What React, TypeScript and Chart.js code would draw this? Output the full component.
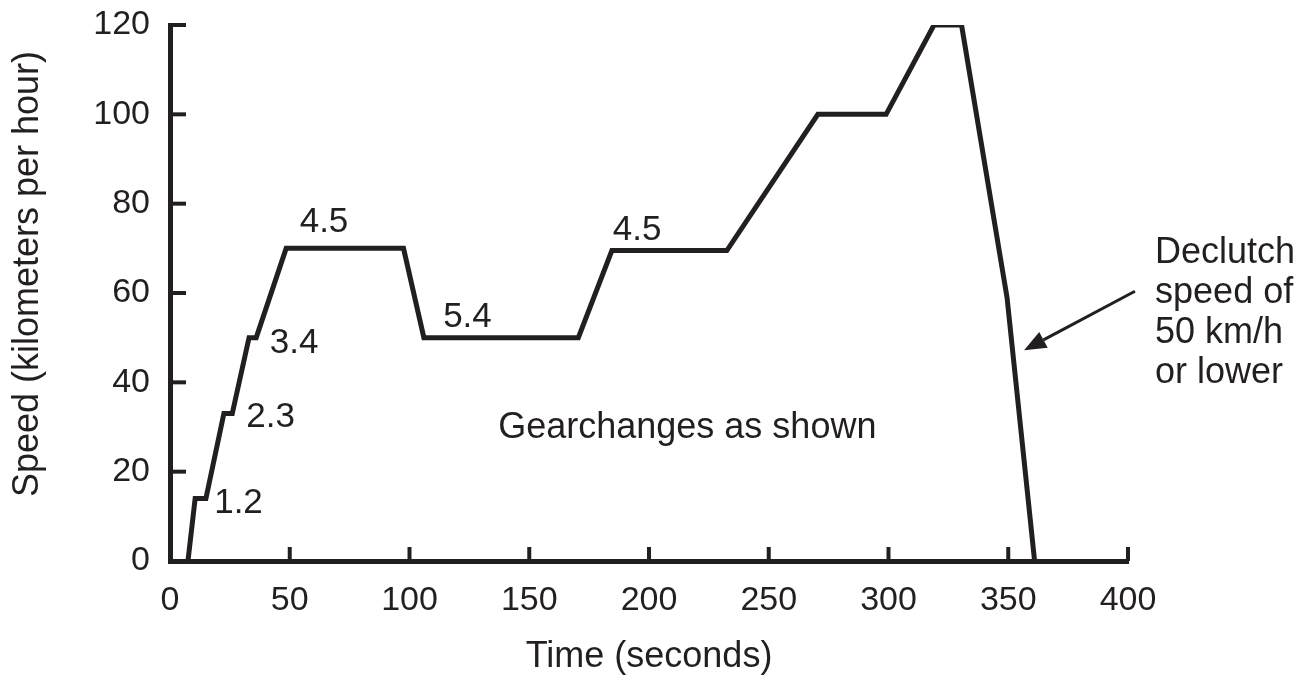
import React, { useEffect, useRef } from "react";
import { Chart, registerables } from "chart.js";

Chart.register(...registerables);

// ---- data ----
const timeSeconds = [7.5, 10.5, 15, 22.5, 26, 33, 36, 48.5, 97.5, 106, 170.5, 184.5, 232.5, 270.5, 299, 319, 330.5, 349.5, 361];
const speedKmh = [0, 14, 14, 33, 33, 50, 50, 70, 70, 50, 50, 69.5, 69.5, 100, 100, 120, 120, 59, 0];

const xTicks = [0, 50, 100, 150, 200, 250, 300, 350, 400];
const yTicks = [0, 20, 40, 60, 80, 100, 120];

const xTitle = "Time (seconds)";
const yTitle = "Speed (kilometers per hour)";

// gear labels: text, anchor time, anchor speed (baseline)
const gearLabels = ["1.2", "2.3", "3.4", "4.5", "5.4", "4.5"];
const gearLabelTimes = [28.6, 42, 51.8, 64.3, 124.2, 195];
const gearLabelSpeeds = [10.7, 30.0, 46.6, 73.6, 52.4, 71.8];

const noteText = "Gearchanges as shown";
const noteTime = 216;
const noteSpeed = 27.5;

const declutchLines = ["Declutch", "speed of", "50 km/h", "or lower"];
const declutchTime = 411.3;
const declutchSpeeds = [66.7, 57.8, 48.9, 39.9];

const arrowFrom = [402.9, 60.4];
const arrowTo = [356.6, 47.2];

const INK = "#231f20";
const FONT = "'Liberation Sans', Arial, Helvetica, sans-serif";

const overlayPlugin = {
  id: "overlay",
  afterDraw(chart: any) {
    const ctx = chart.ctx as CanvasRenderingContext2D;
    const xs = chart.scales.x;
    const ys = chart.scales.y;
    const area = chart.chartArea;
    ctx.save();
    // inward tick marks
    ctx.strokeStyle = INK;
    ctx.lineWidth = 4;
    ctx.lineCap = "butt";
    xTicks.forEach((v) => {
      if (v === 0) return;
      const px = xs.getPixelForValue(v);
      ctx.beginPath();
      ctx.moveTo(px, area.bottom);
      ctx.lineTo(px, area.bottom - 14);
      ctx.stroke();
    });
    yTicks.forEach((v) => {
      if (v === 0) return;
      const py = ys.getPixelForValue(v);
      ctx.beginPath();
      ctx.moveTo(area.left, py);
      ctx.lineTo(area.left + 16, py);
      ctx.stroke();
    });

    // y axis title
    ctx.fillStyle = INK;
    ctx.font = `36px ${FONT}`;
    ctx.save();
    ctx.translate(28, 274);
    ctx.rotate(-Math.PI / 2);
    ctx.textAlign = "center";
    ctx.textBaseline = "middle";
    ctx.fillText(yTitle, 0, 0);
    ctx.restore();

    // text annotations
    ctx.font = `35px ${FONT}`;
    ctx.textAlign = "center";
    ctx.textBaseline = "alphabetic";
    gearLabels.forEach((t, i) => {
      ctx.fillText(t, xs.getPixelForValue(gearLabelTimes[i]), ys.getPixelForValue(gearLabelSpeeds[i]));
    });
    ctx.font = `36px ${FONT}`;
    ctx.fillText(noteText, xs.getPixelForValue(noteTime), ys.getPixelForValue(noteSpeed));
    ctx.textAlign = "left";
    declutchLines.forEach((t, i) => {
      ctx.fillText(t, xs.getPixelForValue(declutchTime), ys.getPixelForValue(declutchSpeeds[i]));
    });

    // arrow
    const x1 = xs.getPixelForValue(arrowFrom[0]);
    const y1 = ys.getPixelForValue(arrowFrom[1]);
    const x2 = xs.getPixelForValue(arrowTo[0]);
    const y2 = ys.getPixelForValue(arrowTo[1]);
    const ang = Math.atan2(y2 - y1, x2 - x1);
    const headLen = 22;
    const headHalf = 9;
    const bx = x2 - headLen * Math.cos(ang);
    const by = y2 - headLen * Math.sin(ang);
    ctx.lineWidth = 3;
    ctx.beginPath();
    ctx.moveTo(x1, y1);
    ctx.lineTo(bx, by);
    ctx.stroke();
    ctx.beginPath();
    ctx.moveTo(x2, y2);
    ctx.lineTo(bx + headHalf * Math.sin(ang), by - headHalf * Math.cos(ang));
    ctx.lineTo(bx - headHalf * Math.sin(ang), by + headHalf * Math.cos(ang));
    ctx.closePath();
    ctx.fill();
    ctx.restore();
  },
};

export default function App() {
  const canvasRef = useRef<HTMLCanvasElement | null>(null);

  useEffect(() => {
    if (!canvasRef.current) return;
    const chart = new Chart(canvasRef.current, {
      type: "line",
      data: {
        datasets: [
          {
            data: timeSeconds.map((t, i) => ({ x: t, y: speedKmh[i] })),
            borderColor: INK,
            borderWidth: 5,
            pointRadius: 0,
            tension: 0,
            borderJoinStyle: "miter",
            borderCapStyle: "butt",
            fill: false,
          },
        ],
      },
      options: {
        animation: false,
        responsive: true,
        maintainAspectRatio: false,
        layout: { padding: { left: 0, right: 181, top: 25, bottom: 0 } },
        plugins: { legend: { display: false }, tooltip: { enabled: false } },
        scales: {
          x: {
            type: "linear",
            min: 0,
            max: 400,
            afterFit: (s: any) => {
              s.height = 118;
              s.paddingLeft = 0;
              s.paddingRight = 0;
            },
            afterBuildTicks: (s: any) => {
              s.ticks = xTicks.map((v) => ({ value: v }));
            },
            grid: { display: false, drawTicks: false },
            border: { display: true, width: 5, color: INK },
            ticks: {
              color: INK,
              font: { family: FONT, size: 34 },
              padding: 19,
              maxRotation: 0,
              autoSkip: false,
            },
            title: {
              display: true,
              text: xTitle,
              color: INK,
              font: { family: FONT, size: 36 },
              padding: { top: 0, bottom: 0 },
            },
          },
          y: {
            type: "linear",
            min: 0,
            max: 120,
            afterFit: (s: any) => {
              s.width = 170;
              s.paddingTop = 0;
              s.paddingBottom = 0;
            },
            afterBuildTicks: (s: any) => {
              s.ticks = yTicks.map((v) => ({ value: v }));
            },
            grid: { display: false, drawTicks: false },
            border: { display: true, width: 5, color: INK },
            ticks: {
              color: INK,
              font: { family: FONT, size: 34 },
              padding: 20,
              autoSkip: false,
            },
            title: { display: false },
          },
        },
      },
      plugins: [overlayPlugin],
    });
    return () => chart.destroy();
  }, []);

  return (
    <div style={{ position: "absolute", left: 0, top: 0, width: 1309, height: 679, background: "#fff" }}>
      <canvas ref={canvasRef} />
    </div>
  );
}
